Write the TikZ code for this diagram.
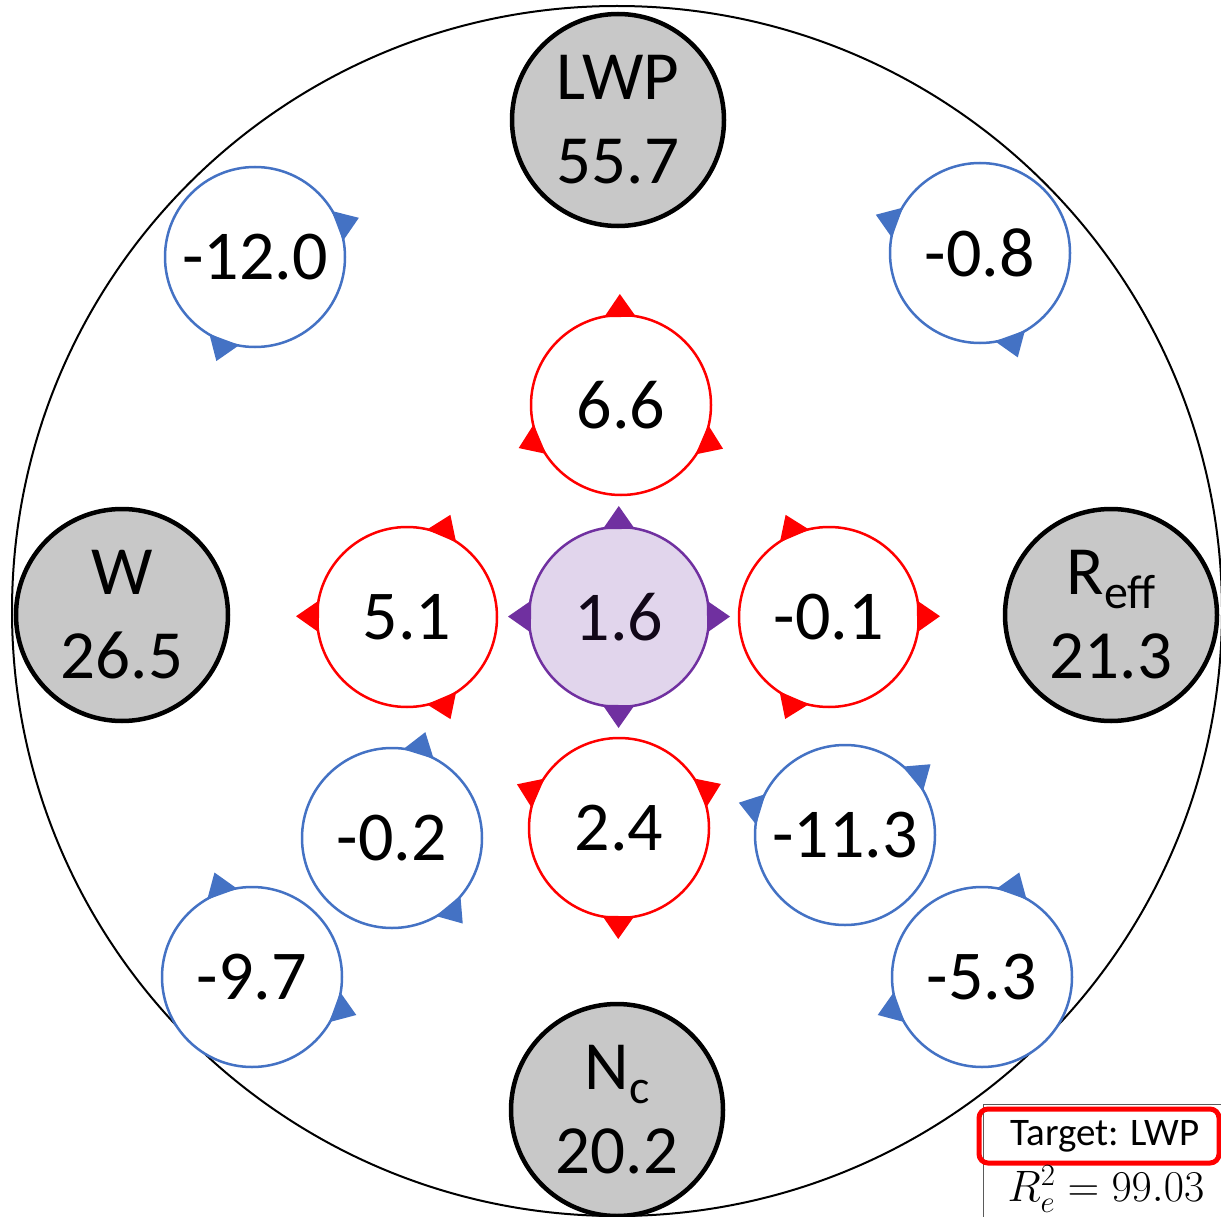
\documentclass[tikz,border=0pt]{standalone}
\usepackage{fix-cm}
\usepackage{fontspec}
\setmainfont{Carlito}
\usetikzlibrary{calc}
\definecolor{bl}{RGB}{68,114,196}
\definecolor{pu}{RGB}{112,48,160}
\definecolor{pufill}{RGB}{225,213,236}
\definecolor{gr}{RGB}{200,200,200}
\definecolor{lg}{RGB}{90,90,90}
\newcommand\tri[3]{\fill[#3] ($(#1.center)!111pt!(#2.center)$) -- ($($(#1.center)!88pt!(#2.center)$)!16pt!90:(#2.center)$) -- ($($(#1.center)!88pt!(#2.center)$)!16pt!-90:(#2.center)$) -- cycle;}
\newcommand\subtx[1]{\raisebox{-0.2em}{\fontsize{48}{48}\selectfont #1}}
\begin{document}
\begin{tikzpicture}[x=1pt,y=-1pt,
 var/.style={circle, draw=black, line width=4.5pt, fill=gr, minimum size=212pt, inner sep=0pt, align=center, font=\fontsize{69}{84}\selectfont},
 two/.style={circle, draw=bl, line width=2.5pt, fill=white, minimum size=180pt, inner sep=0pt, font=\fontsize{70}{70}\selectfont},
 three/.style={two, draw=red},
 four/.style={two, draw=pu, fill=pufill, text=black!85!pu}]
\useasboundingbox (0,0) rectangle (1221,1217);
\node[circle, draw=black, line width=2pt, minimum size=1210pt, inner sep=0pt] (outer) at (617,611) {};
% variable nodes
\node[var] (lwp) at (618,120) {LWP\\55.7};
\node[var] (w) at (122,615) {W\\26.5};
\node[var] (reff) at (1111,615) {R\subtx{eff}\\21.3};
\node[var] (nc) at (617,1110) {N\subtx{c}\\20.2};
% interaction nodes
\node[two] (b120) at (255,257) {-12.0};
\node[two] (b08) at (980,253) {-0.8};
\node[two] (b02) at (392,838) {-0.2};
\node[two] (b113) at (845,835) {-11.3};
\node[two] (b97) at (252,977) {-9.7};
\node[two] (b53) at (982,977) {-5.3};
\node[three] (r66) at (621,405) {6.6};
\node[three] (r51) at (407,617) {5.1};
\node[three] (r01) at (829,617) {-0.1};
\node[three] (r24) at (619,828) {2.4};
\node[four] (p16) at (619,617) {1.6};
% direction markers
\tri{b120}{lwp}{bl}\tri{b120}{w}{bl}
\tri{b08}{lwp}{bl}\tri{b08}{reff}{bl}
\tri{b02}{lwp}{bl}\tri{b02}{nc}{bl}
\tri{b113}{w}{bl}\tri{b113}{reff}{bl}
\tri{b97}{w}{bl}\tri{b97}{nc}{bl}
\tri{b53}{reff}{bl}\tri{b53}{nc}{bl}
\tri{r66}{lwp}{red}\tri{r66}{w}{red}\tri{r66}{reff}{red}
\tri{r51}{w}{red}\tri{r51}{lwp}{red}\tri{r51}{nc}{red}
\tri{r01}{reff}{red}\tri{r01}{lwp}{red}\tri{r01}{nc}{red}
\tri{r24}{nc}{red}\tri{r24}{w}{red}\tri{r24}{reff}{red}
\tri{p16}{lwp}{pu}\tri{p16}{w}{pu}\tri{p16}{reff}{pu}\tri{p16}{nc}{pu}
% legend
\node[draw=lg, line width=1pt, fill=white, minimum width=245pt, minimum height=118pt, inner sep=0pt, anchor=north west] (legend) at (983,1104) {};
\node[draw=red, line width=5pt, rounded corners=9pt, minimum width=240pt, minimum height=54pt, inner sep=0pt, font=\fontsize{39}{39}\selectfont] (target) at (1099,1136) {\hspace*{12pt}Target: LWP};
\node[font=\fontsize{44}{44}\selectfont, anchor=center, inner sep=0pt] (r2) at (1106,1189) {$R_e^2 = 99.03$};
\end{tikzpicture}
\end{document}
